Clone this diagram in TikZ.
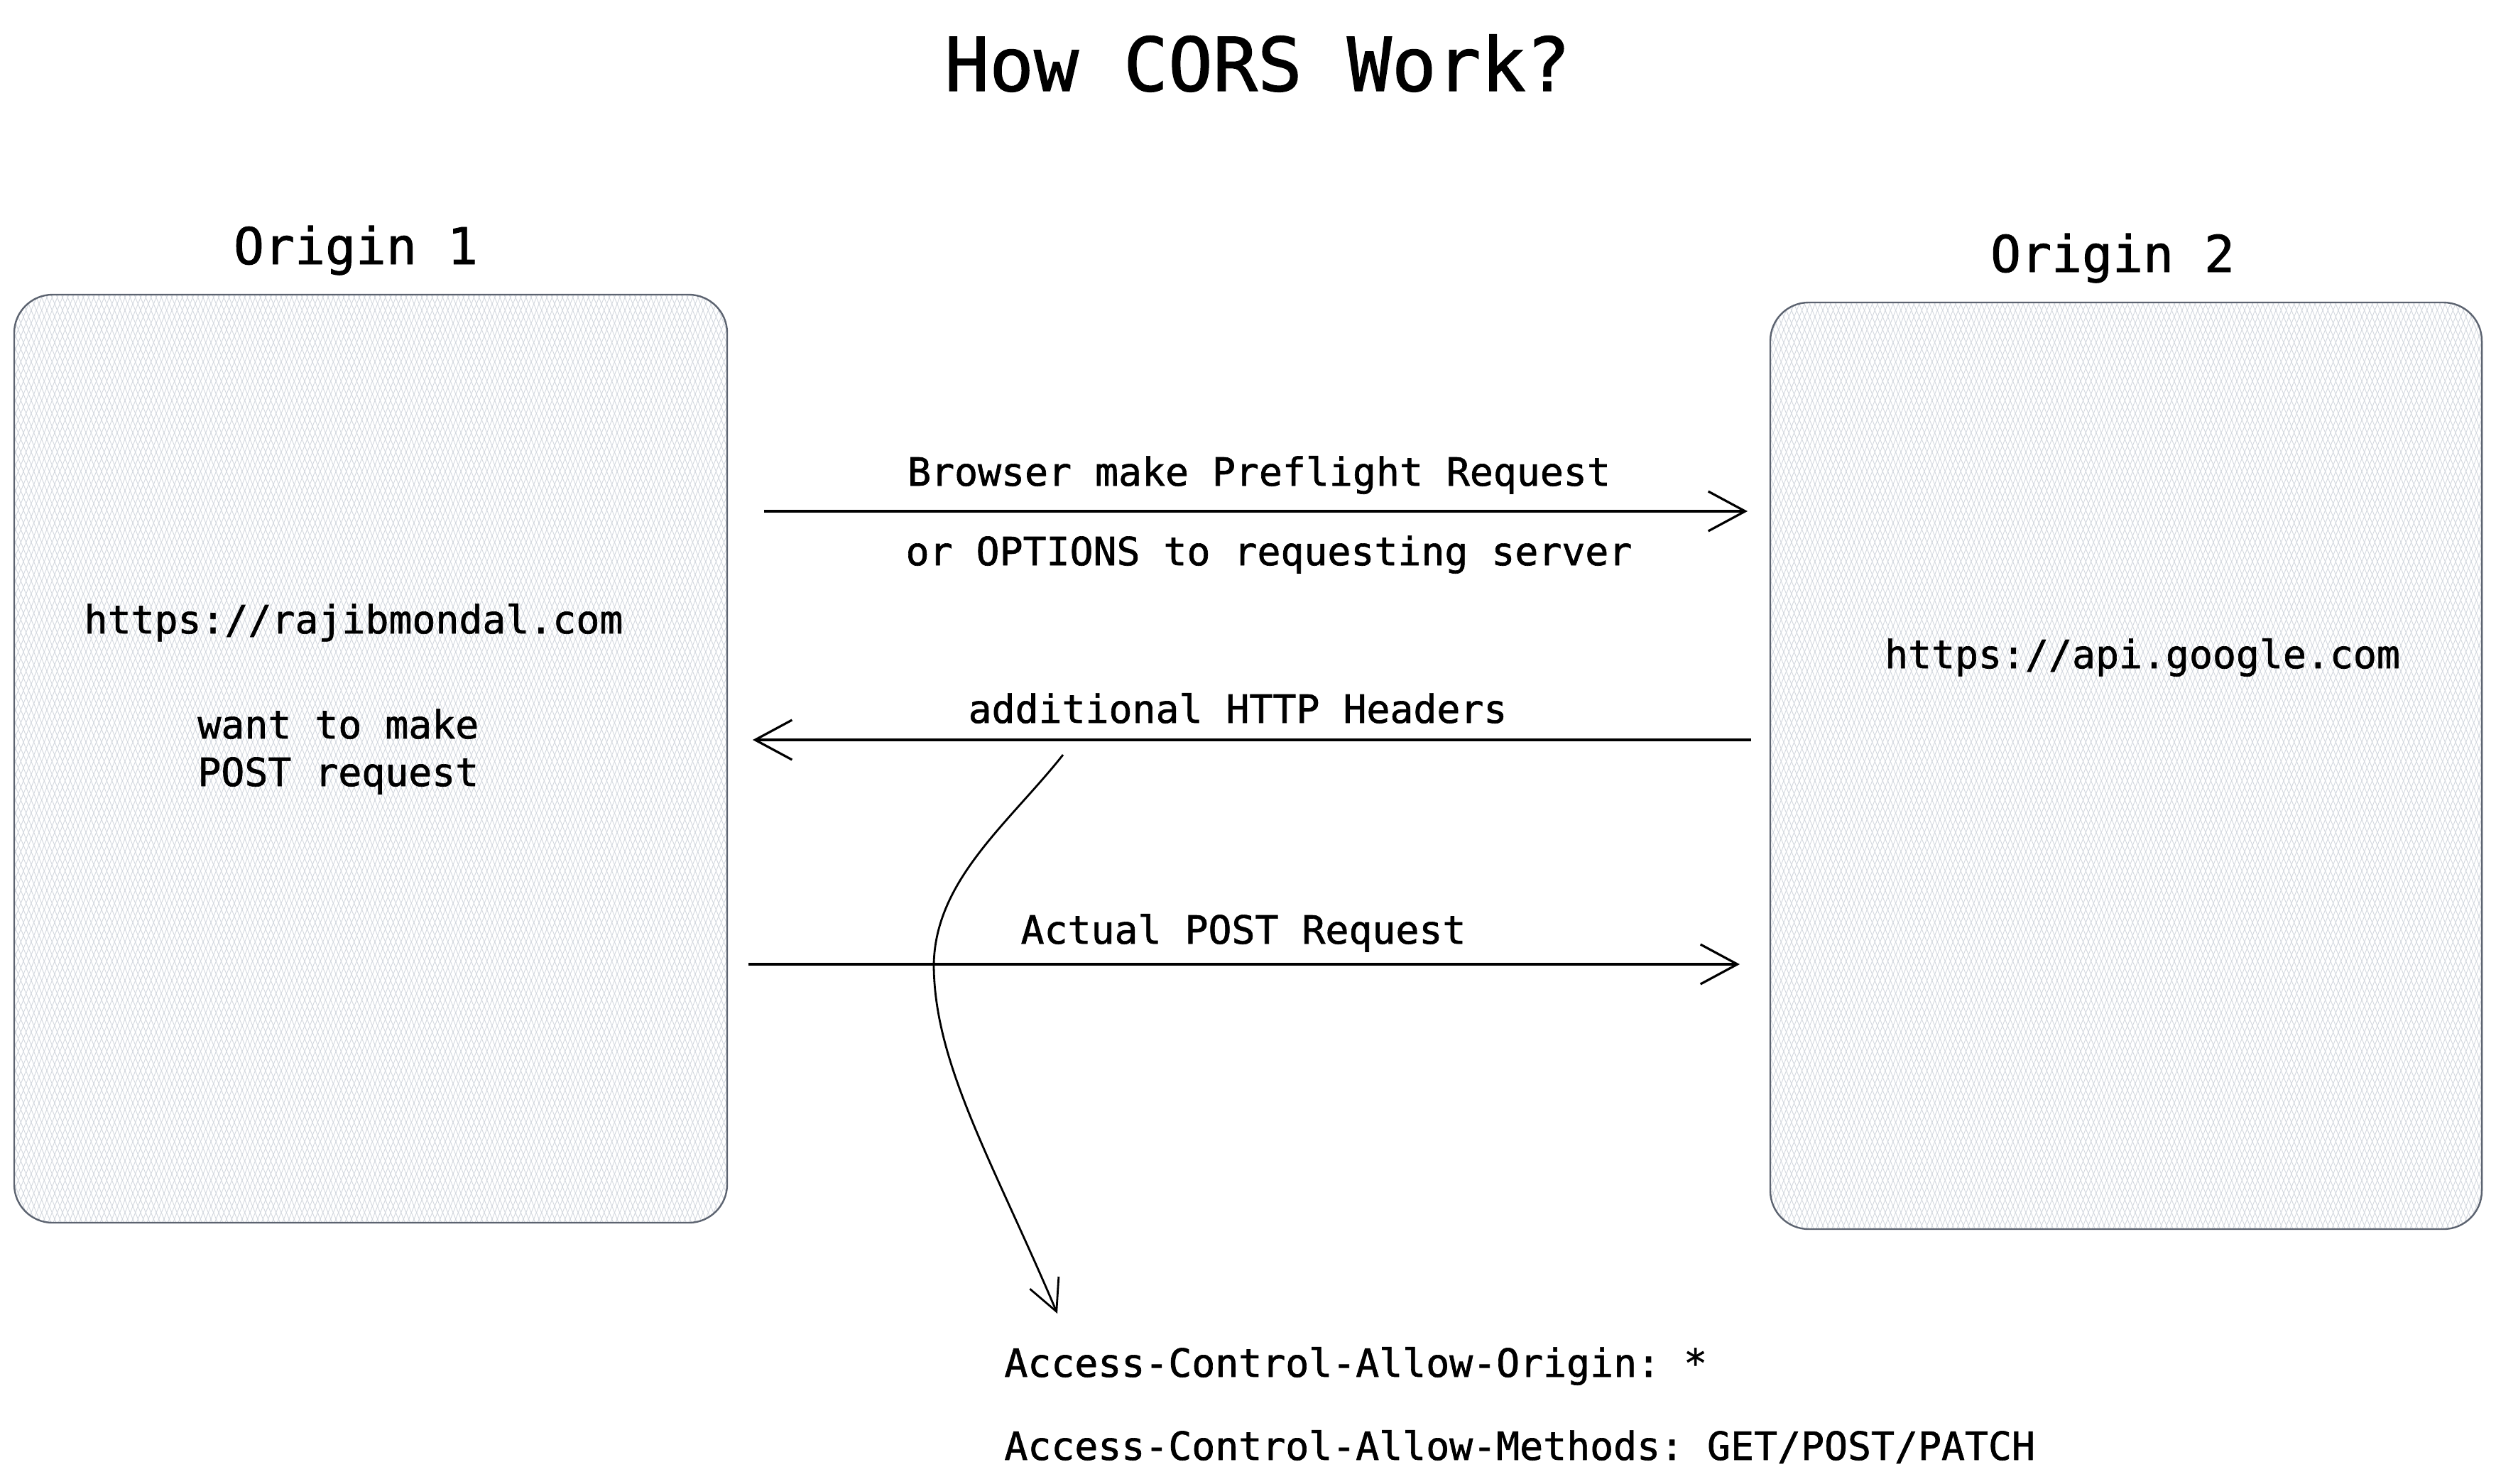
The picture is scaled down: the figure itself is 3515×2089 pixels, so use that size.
\documentclass[tikz,border=0pt]{standalone}
\usepackage{fontspec}
\setmonofont{DejaVu Sans Mono}[UprightFeatures={FakeBold=1.2}]
\usetikzlibrary{arrows.meta,patterns.meta}
\definecolor{boxgray}{HTML}{5C6370}
\definecolor{hatch}{HTML}{D2D7DE}
\begin{document}
\begin{tikzpicture}[x=0.5pt,y=-0.5pt,
  body/.style={font=\ttfamily\fontsize{27.4}{33}\selectfont, inner sep=0pt},
  heading/.style={font=\ttfamily\fontsize{35.7}{42}\selectfont, inner sep=0pt, anchor=base},
  box/.style={draw=boxgray, line width=1.2pt, rounded corners=27pt, inner sep=0pt,
    preaction={fill=white},
    preaction={pattern={Lines[angle=68,distance=3.4pt,line width=0.45pt]}, pattern color=hatch},
    preaction={pattern={Lines[angle=112,distance=3.4pt,line width=0.45pt]}, pattern color=hatch}},
  flow/.style={line width=2.1pt, -{Straight Barb[length=26pt,width=28pt,line width=1.6pt]}},
  curvy/.style={line width=1.4pt, -{Straight Barb[length=22pt,width=22pt,line width=1.4pt]}}
]
\useasboundingbox (0,0) rectangle (3515,2089);

% title
\node[font=\ttfamily\fontsize{52.3}{60}\selectfont, inner sep=0pt, anchor=base] (title) at (1771,128) {How CORS Work?};

% boxes
\node[box, minimum width=502pt, minimum height=653.5pt] (o1) at (522,1068.5) {};
\node[box, minimum width=501pt, minimum height=652.5pt] (o2) at (2994,1078.5) {};

\node[heading] (h1) at (501,372) {Origin 1};
\node[heading] (h2) at (2975,383) {Origin 2};

\node[body, anchor=base] (u1) at (498,892) {https://rajibmondal.com};
\node[body, anchor=base west] (w1) at (278,1040) {want to make};
\node[body, anchor=base west] (w2) at (278,1107) {POST request};
\node[body, anchor=base] (u2) at (3017,941) {https://api.google.com};

% arrow endpoints
\coordinate (a1s) at (1076,720);
\coordinate (a1e) at (2461,720);
\coordinate (a2s) at (2466,1042);
\coordinate (a2e) at (1060,1042);
\coordinate (a3s) at (1054,1358);
\coordinate (a3e) at (2450,1358);
\coordinate (cs) at (1497,1063);
\coordinate (ce) at (1489,1850);

\draw[flow] (a1s) -- (a1e);
\draw[flow] (a2s) -- (a2e);
\draw[flow] (a3s) -- (a3e);

\node[body, anchor=base] (l1) at (1773,684) {Browser make Preflight Request};
\node[body, anchor=base] (l2) at (1787,796) {or OPTIONS to requesting server};
\node[body, anchor=base] (l3) at (1743,1018) {additional HTTP Headers};
\node[body, anchor=base] (l4) at (1751,1329) {Actual POST Request};

\draw[curvy] (cs) .. controls (1420,1160) and (1316,1240) .. (1315,1360)
  .. controls (1316,1500) and (1400,1640) .. (ce);

\node[body, anchor=base west] (h1t) at (1414,1939) {Access-Control-Allow-Origin: *};
\node[body, anchor=base west] (h2t) at (1414,2056) {Access-Control-Allow-Methods: GET/POST/PATCH};
\end{tikzpicture}
\end{document}
